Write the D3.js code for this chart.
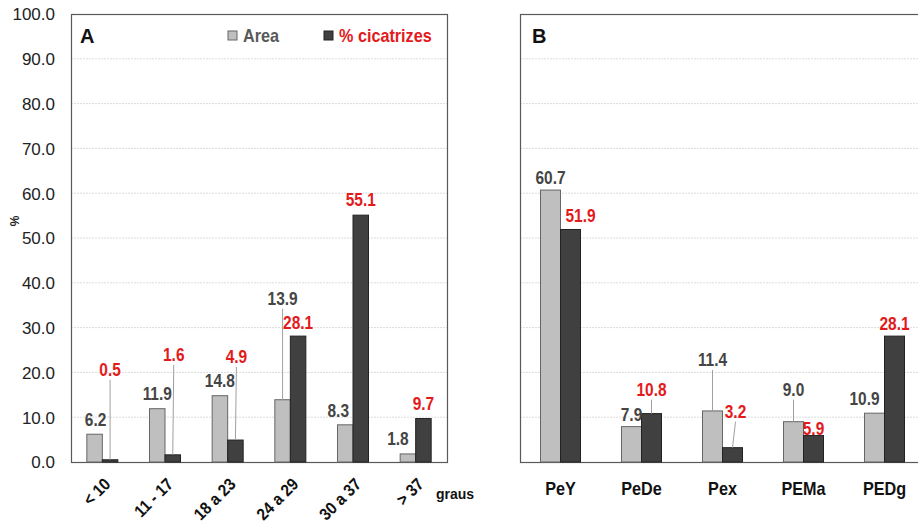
<!DOCTYPE html>
<html><head><meta charset="utf-8">
<script src="https://cdn.jsdelivr.net/npm/d3@7/dist/d3.min.js"></script>
<style>
body{margin:0;background:#fff;}
text{font-family:"Liberation Sans",Arial,sans-serif;}
</style></head><body>
<svg id="c" width="918" height="526"></svg>
<script>
// Panel A data
const catsA = ["< 10","11 - 17","18 a 23","24 a 29","30 a 37","> 37"];
const areaA = [6.2, 11.9, 14.8, 13.9, 8.3, 1.8];
const cicA  = [0.5, 1.6, 4.9, 28.1, 55.1, 9.7];
// Panel B data
const catsB = ["PeY","PeDe","Pex","PEMa","PEDg"];
const areaB = [60.7, 7.9, 11.4, 9.0, 10.9];
const cicB  = [51.9, 10.8, 3.2, 5.9, 28.1];
const yTicks = [0,10,20,30,40,50,60,70,80,90,100];
const seriesNames = ["Area","% cicatrizes"];

const LIGHT="#bfbfbf", DARK="#404040", RED="#e31a1c", GREYTXT="#454545";
const svg = d3.select("#c");
const y = d3.scaleLinear().domain([0,100]).range([462,14]);

// label placement: [dx from bar centre, baseline distance above bar top]
const labA_area = [[1,8],[0,9],[0,9],[0,95],[-7,8],[-10,8.5]];
const labA_cic  = [[0,84],[1,94],[1,77],[0,7.5],[0,9],[0,9]];
const labB_area = [[0,6.5],[0,6],[0,45],[0,26],[-10,8]];
const labB_cic  = [[10,7],[0,18],[3,30],[0,1],[0,6.5]];

function panel(x0, x1, cats, area, cic, opts){
  const g = svg.append("g");
  const x = d3.scaleBand().domain(cats).range([x0, x1]).paddingInner(0).paddingOuter(0);
  const bw = opts.bw;
  g.selectAll("line.grid").data(yTicks.filter(d=>d>0&&d<100)).enter().append("line")
    .attr("x1",x0).attr("x2",x1).attr("y1",d=>y(d)).attr("y2",d=>y(d))
    .attr("stroke","#dcdcdc").attr("stroke-width",1).attr("stroke-dasharray","2,1");
  g.append("rect").attr("x",x0+0.5).attr("y",y(100)+0.5).attr("width",x1-x0).attr("height",y(0)-y(100))
    .attr("fill","none").attr("stroke","#595959").attr("stroke-width",1.2);
  const cx = c => x(c)+x.bandwidth()/2;
  g.selectAll("rect.a").data(cats).enter().append("rect")
    .attr("x",(c)=>cx(c)-bw).attr("y",(c,i)=>y(area[i])).attr("width",bw).attr("height",(c,i)=>y(0)-y(area[i]))
    .attr("fill",LIGHT).attr("stroke","#666").attr("stroke-width",1);
  g.selectAll("rect.b").data(cats).enter().append("rect")
    .attr("x",(c)=>cx(c)).attr("y",(c,i)=>y(cic[i])).attr("width",bw).attr("height",(c,i)=>y(0)-y(cic[i]))
    .attr("fill",DARK).attr("stroke","#222").attr("stroke-width",1);
  function labels(vals, offs, side, color){
    vals.forEach((v,i)=>{
      const bx = cx(cats[i]) + (side<0 ? -bw/2 : bw/2);
      const lx = bx + offs[i][0];
      const ly = y(v) - offs[i][1];
      if (offs[i][1] > 15){
        g.append("line").attr("x1",lx).attr("y1",ly+4).attr("x2",bx).attr("y2",y(v))
          .attr("stroke","#a0a0a0").attr("stroke-width",1);
      }
      g.append("text").attr("transform",`translate(${lx},${ly}) scale(0.86,1)`).attr("text-anchor","middle")
        .attr("font-size",18).attr("font-weight","bold").attr("fill",color).text(d3.format(".1f")(v));
    });
  }
  labels(area, opts.la, -1, GREYTXT);
  labels(cic, opts.lc, 1, RED);
  return {x, cx};
}

const A = panel(71, 447, catsA, areaA, cicA, {bw:15.5, la:labA_area, lc:labA_cic});
const B = panel(520, 925, catsB, areaB, cicB, {bw:20, la:labB_area, lc:labB_cic});

// Y axis (panel A)
const yAxis = d3.axisLeft(y).tickValues(yTicks).tickFormat(d3.format(".1f")).tickSize(0).tickPadding(16);
const ya = svg.append("g").attr("transform","translate(71,0)").call(yAxis);
ya.select(".domain").remove();
ya.selectAll("text").attr("font-size",17).attr("fill","#222")
  .style("font-family","'Liberation Sans',Arial,sans-serif").attr("dy","0.35em");
svg.append("text").attr("transform","translate(19,221) rotate(-90)").attr("text-anchor","middle")
  .attr("font-size",12).attr("font-weight","bold").attr("fill","#222").text("%");

// X labels A
svg.selectAll("text.xa").data(catsA).enter().append("text")
  .attr("transform",c=>`translate(${A.cx(c)+5},${481}) rotate(-45) scale(0.9,1)`)
  .attr("text-anchor","end").attr("dy","0.35em")
  .attr("font-size",17).attr("font-weight","bold").attr("fill","#111").text(c=>c);
svg.append("text").attr("x",436).attr("y",499).attr("font-size",14).attr("font-weight","bold")
  .attr("fill","#111").text("graus");

// X labels B
svg.selectAll("text.xb").data(catsB).enter().append("text")
  .attr("transform",c=>`translate(${B.cx(c)},495) scale(0.9,1)`).attr("text-anchor","middle")
  .attr("font-size",18).attr("font-weight","bold").attr("fill","#111").text(c=>c);

// Panel letters
svg.append("text").attr("x",80).attr("y",43).attr("font-size",20).attr("font-weight","bold").attr("fill","#111").text("A");
svg.append("text").attr("x",532).attr("y",43).attr("font-size",20).attr("font-weight","bold").attr("fill","#111").text("B");

// Legend
const legColors=[LIGHT,DARK], legStroke=["#666","#222"], legText=["#595959",RED], legX=[228,324];
seriesNames.forEach((n,i)=>{
  svg.append("rect").attr("x",legX[i]).attr("y",31).attr("width",9).attr("height",9)
    .attr("fill",legColors[i]).attr("stroke",legStroke[i]);
  svg.append("text").attr("transform",`translate(${legX[i]+15},42) scale(0.9,1)`).attr("font-size",18).attr("font-weight","bold")
    .attr("fill",legText[i]).text(n);
});
</script></body></html>
